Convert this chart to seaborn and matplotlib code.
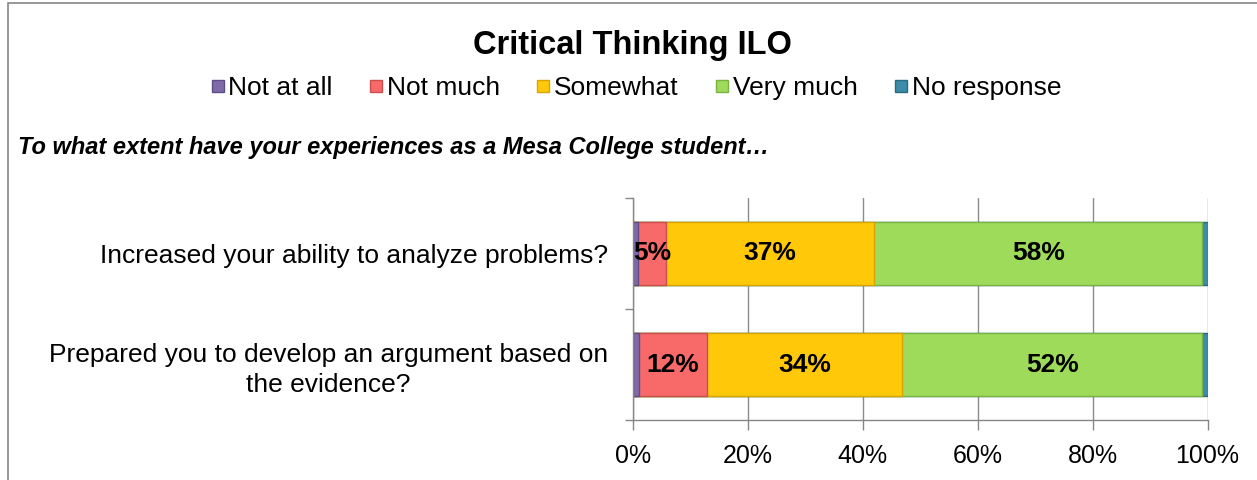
import numpy as np
import pandas as pd
import matplotlib
matplotlib.use("Agg")
import matplotlib.pyplot as plt
from matplotlib.lines import Line2D
from matplotlib.patches import Rectangle
import seaborn as sns

# -------------------------
# Data
# -------------------------
questions = ["Increased your ability to analyze problems?",
             "Prepared you to develop an argument based on\nthe evidence?"]
responses = ["Not at all", "Not much", "Somewhat", "Very much", "No response"]
not_at_all = [0.8, 1.1]
not_much = [5.0, 11.8]
somewhat = [36.6, 33.9]
very_much = [57.6, 52.3]
no_response = [0.9, 0.9]
labelled = ["Not much", "Somewhat", "Very much"]
xticks = [0, 20, 40, 60, 80, 100]

colors = ["#7E6AA8", "#F86A6A", "#FFC90A", "#9EDB5A", "#3A8CA8"]
edges = ["#5E4C85", "#C94F4F", "#D9A400", "#7AB243", "#2A6A80"]

df = pd.DataFrame({"question": questions,
                   "Not at all": not_at_all,
                   "Not much": not_much,
                   "Somewhat": somewhat,
                   "Very much": very_much,
                   "No response": no_response})
# stretch each row to 100%, Excel style
tot = df[responses].sum(axis=1)
share = df[responses].div(tot, axis=0) * 100
cum = share.cumsum(axis=1)

sns.set_theme(style="white")
plt.rcParams["font.family"] = ["Liberation Sans", "DejaVu Sans"]
plt.rcParams["text.color"] = "black"
plt.rcParams["xtick.color"] = "black"
plt.rcParams["ytick.color"] = "black"

fig = plt.figure(figsize=(12.57, 4.8), dpi=100)
ax = fig.add_axes([633 / 1257, 1 - 420 / 480, (1207.5 - 633) / 1257, (420 - 198) / 480])

# -------------------------
# Stacked bars: draw the longest cumulative bar first, shorter ones on top
# -------------------------
for i in range(len(responses) - 1, -1, -1):
    r = responses[i]
    plot_df = pd.DataFrame({"question": df["question"], "val": cum[r]})
    sns.barplot(data=plot_df, x="val", y="question", orient="h", ax=ax,
                color=colors[i], edgecolor=edges[i], linewidth=1.0,
                width=0.57, saturation=1, order=questions)

# data labels
for j, q in enumerate(questions):
    for r in labelled:
        mid = cum.loc[j, r] - share.loc[j, r] / 2
        ax.text(mid, j, f"{df.loc[j, r]:.0f}%", ha="center", va="center",
                fontsize=19, fontweight="bold", color="black")

ax.set_xlim(0, 100)
ax.set_ylim(1.5, -0.5)
ax.set_xticks(xticks)
ax.set_xticklabels([f"{t}%" for t in xticks], fontsize=18)
ax.set_xlabel("")
ax.set_ylabel("")
ax.set_yticks([0, 1])
ax.set_yticklabels(questions, fontsize=19, multialignment="center", linespacing=1.3)
ax.set_yticks([-0.5, 0.5, 1.5], minor=True)
ax.tick_params(axis="y", which="major", length=0, pad=18)
ax.tick_params(axis="y", which="minor", length=6, width=1, color="#868686", direction="out", left=True)
ax.tick_params(axis="x", length=7, width=1, color="#868686", direction="out", bottom=True, pad=10)

ax.set_axisbelow(True)
ax.xaxis.grid(True, color="#8C8C8C", linewidth=1)
ax.yaxis.grid(False)
for s in ["top", "right"]:
    ax.spines[s].set_visible(False)
for s in ["left", "bottom"]:
    ax.spines[s].set_color("#868686")
    ax.spines[s].set_linewidth(1)

# -------------------------
# Title, legend, subtitle, border
# -------------------------
fig.text(0.503, 0.905, "Critical Thinking ILO", ha="center", va="center",
         fontsize=23.5, fontweight="bold")

handles = [Line2D([0], [0], marker="s", linestyle="", markersize=9,
                  markerfacecolor=c, markeredgecolor=e) for c, e in zip(colors, edges)]
fig.legend(handles, responses, loc="center", bbox_to_anchor=(0.5056, 0.817),
           ncol=5, frameon=False, fontsize=19, handletextpad=0.1,
           columnspacing=1.35, handlelength=0.6)

fig.text(18 / 1257, 0.692, "To what extent have your experiences as a Mesa College student\u2026",
         ha="left", va="center", fontsize=17, fontweight="bold", fontstyle="italic")

fig.patches.append(Rectangle((8 / 1257, -0.02), 1.1, 1.0 - 3 / 480 + 0.02,
                             transform=fig.transFigure, fill=False,
                             edgecolor="#868686", linewidth=1.2))

fig.savefig("out.png", dpi=100)
